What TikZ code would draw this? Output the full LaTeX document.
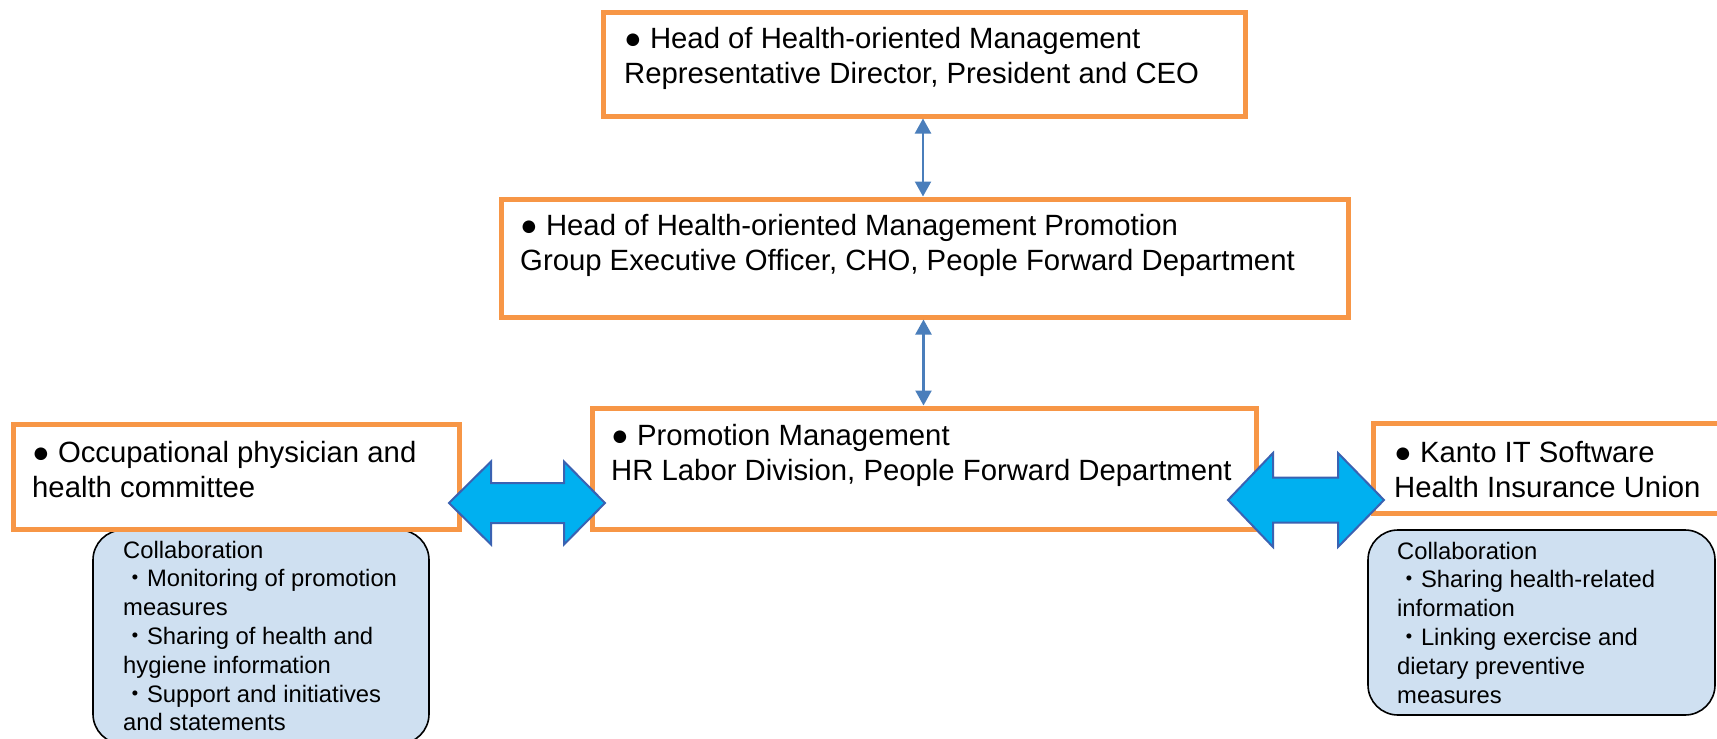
\documentclass[tikz,border=0pt]{standalone}
\usepackage{fontspec}
\setmainfont{Liberation Sans}
\newfontfamily\cjk{Noto Sans CJK JP}
\usetikzlibrary{arrows.meta}

\definecolor{boxorange}{HTML}{F79646}
\definecolor{linkblue}{HTML}{4A7EBB}
\definecolor{fatfill}{HTML}{00B0F0}
\definecolor{fatedge}{HTML}{3A62B2}
\definecolor{notefill}{HTML}{CFE0F1}

% text blocks: first line sits on the node's base line
\newcommand{\maintext}[1]{\parbox[t]{36cm}{\fontsize{29.3}{35}\selectfont\raggedright #1}}
\newcommand{\notetext}[1]{\parbox[t]{20cm}{\fontsize{23.8}{28.8}\selectfont\raggedright #1}}
\newcommand{\dotitem}{{\cjk ・}}

\tikzset{
  orgbox/.style={draw=boxorange, line width=5pt, fill=white, inner sep=0pt},
  notebox/.style={draw=black, line width=1.6pt, fill=notefill, rounded corners=30pt, inner sep=0pt},
  label/.style={inner sep=0pt, anchor=base west},
  link/.style={draw=linkblue, line width=2.2pt,
    {Triangle[width=16pt,length=15pt]}-{Triangle[width=16pt,length=15pt]}},
  fatarrow/.style={draw=fatedge, line width=2pt, fill=fatfill, line join=miter}
}

\begin{document}
\begin{tikzpicture}[x=1pt, y=-1pt]
\clip (0,0) rectangle (1717,739);
\fill[white] (0,0) rectangle (1717,739);

% collaboration notes
\node[notebox, minimum width=336pt, minimum height=214pt] (leftnote) at (261,637) {};
\node[notebox, minimum width=347pt, minimum height=185pt] (rightnote) at (1541.5,622.5) {};

% organisation boxes
\node[orgbox, minimum width=642pt, minimum height=104pt] (head) at (924,64) {};
\node[orgbox, minimum width=847pt, minimum height=118pt] (promo) at (924.5,258) {};
\node[orgbox, minimum width=664pt, minimum height=121pt] (mgmt) at (924,468.5) {};
\node[orgbox, minimum width=446pt, minimum height=105pt] (phys) at (236,476.5) {};
\node[orgbox, minimum width=357pt, minimum height=90pt] (union) at (1551.5,468) {};

% box texts
\node[label] (headtext) at (624,48) {\maintext{● Head of Health-oriented Management\\Representative Director, President and CEO}};
\node[label] (promotext) at (520,235) {\maintext{● Head of Health-oriented Management Promotion\\Group Executive Officer, CHO, People Forward Department}};
\node[label] (mgmttext) at (611,445) {\maintext{● Promotion Management\\HR Labor Division, People Forward Department}};
\node[label] (phystext) at (32,462) {\maintext{● Occupational physician and\\health committee}};
\node[label] (uniontext) at (1394,462) {\maintext{● Kanto IT Software\\Health Insurance Union}};

% note texts
\node[label] (leftnotetext) at (123,558) {\notetext{Collaboration\\\dotitem Monitoring of promotion\\measures\\\dotitem Sharing of health and\\hygiene information\\\dotitem Support and initiatives\\and statements}};
\node[label] (rightnotetext) at (1397,559) {\notetext{Collaboration\\\dotitem Sharing health-related\\information\\\dotitem Linking exercise and\\dietary preventive\\measures}};

% reporting lines
\draw[link] ([xshift=-1pt]head.south) -- ([xshift=-1pt]head.south |- promo.north);
\draw[link] ([xshift=-1pt]promo.south) -- ([xshift=-1pt]promo.south |- mgmt.north);

% two-way collaboration arrows
\coordinate (leftlink) at (527,503);
\coordinate (rightlink) at (1306,500);
\draw[fatarrow] ([xshift=-78pt]leftlink) -- ++(42,-41.5) -- ++(0,21.5) -- ++(73,0) -- ++(0,-21.5)
  -- ++(41,41.5) -- ++(-41,41.5) -- ++(0,-21.5) -- ++(-73,0) -- ++(0,21.5) -- cycle;
\draw[fatarrow] ([xshift=-78pt]rightlink) -- ++(45,-47) -- ++(0,24.5) -- ++(65,0) -- ++(0,-24.5)
  -- ++(46,47) -- ++(-46,47) -- ++(0,-24.5) -- ++(-65,0) -- ++(0,24.5) -- cycle;
\end{tikzpicture}
\end{document}
